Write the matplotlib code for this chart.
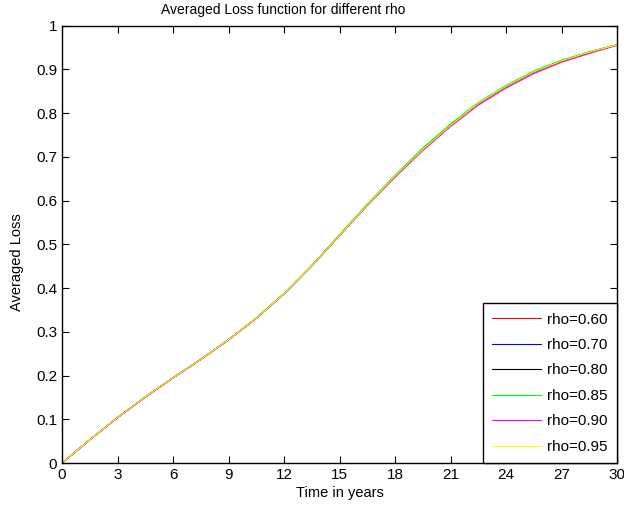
import matplotlib
matplotlib.use('Agg')
import matplotlib.pyplot as plt

plt.rcParams['font.family'] = ['Liberation Sans', 'DejaVu Sans']

years = [0, 1.5, 3, 4.5, 6, 7.5, 9, 10.5, 12, 13.5, 15, 16.5, 18, 19.5,
         21, 22.5, 24, 25.5, 27, 28.5, 30]

# averaged loss, one list per rho (curves nearly overlap)
loss_060 = [0, 0.053, 0.104, 0.151, 0.195, 0.237, 0.282, 0.331, 0.387, 0.451,
            0.520, 0.590, 0.655, 0.717, 0.772, 0.821, 0.860, 0.893, 0.918, 0.938, 0.955]
loss_070 = [0, 0.053, 0.104, 0.151, 0.195, 0.237, 0.282, 0.331, 0.387, 0.451,
            0.520, 0.590, 0.656, 0.718, 0.773, 0.822, 0.861, 0.894, 0.919, 0.939, 0.956]
loss_080 = [0, 0.053, 0.104, 0.151, 0.195, 0.237, 0.282, 0.331, 0.387, 0.451,
            0.521, 0.591, 0.656, 0.718, 0.773, 0.822, 0.861, 0.894, 0.919, 0.939, 0.956]
loss_085 = [0, 0.053, 0.104, 0.151, 0.195, 0.237, 0.282, 0.332, 0.388, 0.452,
            0.522, 0.592, 0.658, 0.720, 0.775, 0.824, 0.863, 0.896, 0.921, 0.940, 0.957]
loss_090 = [0, 0.053, 0.103, 0.150, 0.194, 0.236, 0.281, 0.330, 0.386, 0.450,
            0.519, 0.588, 0.653, 0.714, 0.769, 0.818, 0.857, 0.890, 0.916, 0.936, 0.955]
loss_095 = [0, 0.053, 0.104, 0.151, 0.195, 0.237, 0.282, 0.331, 0.387, 0.451,
            0.520, 0.590, 0.656, 0.717, 0.772, 0.822, 0.861, 0.894, 0.919, 0.939, 0.956]

series = [loss_060, loss_070, loss_080, loss_085, loss_090, loss_095]
labels = ['rho=0.60', 'rho=0.70', 'rho=0.80', 'rho=0.85', 'rho=0.90', 'rho=0.95']
colors = ['#ff0000', '#0000ff', '#000000', '#00ff00', '#ff00ff', '#ffff00']

fig = plt.figure(figsize=(6.24, 5.17), dpi=100)
ax = fig.add_axes([0.0994, 0.1044, 0.8894, 0.8462])

for vals, lab, col in zip(series, labels, colors):
    ax.plot(years, vals, color=col, linewidth=0.8, label=lab)

ax.set_xlim(0, 30)
ax.set_ylim(0, 1)
ax.set_xticks(range(0, 31, 3))
ax.set_yticks([0, 0.1, 0.2, 0.3, 0.4, 0.5, 0.6, 0.7, 0.8, 0.9, 1])
ax.set_yticklabels(['0', '0.1', '0.2', '0.3', '0.4', '0.5', '0.6', '0.7', '0.8', '0.9', '1'])
ax.tick_params(direction='in', top=True, right=True, length=5, width=0.8, labelsize=11)
for s in ax.spines.values():
    s.set_linewidth(1.0)

fig.text(0.4535, 0.981, 'Averaged Loss function for different rho', fontsize=10,
         ha='center', va='center')
ax.set_xlabel('Time in years', fontsize=10.5, labelpad=3)
ax.set_ylabel('Averaged Loss', fontsize=10.5)
ax.yaxis.set_label_coords(-0.068, 0.46)

leg = ax.legend(loc='lower right', borderaxespad=0, fontsize=11, fancybox=False,
                edgecolor='black', framealpha=1, handlelength=3.2, labelspacing=0.75,
                borderpad=0.6, handletextpad=0.4)
leg.get_frame().set_linewidth(1.0)

fig.savefig('out.png', dpi=100)
